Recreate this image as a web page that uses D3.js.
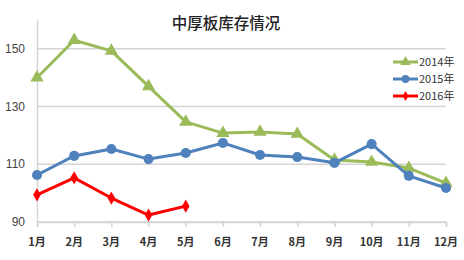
<!DOCTYPE html>
<html>
<head>
<meta charset="utf-8">
<script src="https://cdn.jsdelivr.net/npm/d3@7"></script>
<style>
  body { margin: 0; background: #fff; overflow: hidden; }
  svg { display: block; }
</style>
</head>
<body>
<div id="chart"></div>
<script>
// -----------------------------
// DATA
// -----------------------------
const months = ["1月", "2月", "3月", "4月", "5月", "6月", "7月", "8月", "9月", "10月", "11月", "12月"];
const yTicks = [90, 110, 130, 150];
const values2014 = [140, 153, 149.3, 137, 124.7, 120.8, 121.2, 120.5, 111.5, 110.8, 108.7, 103.5];
const values2015 = [106.3, 112.9, 115.3, 111.8, 113.9, 117.4, 113.2, 112.5, 110.5, 117, 106, 101.8];
const values2016 = [99.4, 105.3, 98.3, 92.4, 95.5];
const seriesNames = ["2014年", "2015年", "2016年"];

const width = 464;
const height = 260;
const margin = { top: 20, right: 18, bottom: 38, left: 37 };
const innerWidth = width - margin.left - margin.right;
const innerHeight = height - margin.top - margin.bottom;

const svg = d3.select("#chart")
    .append("svg")
    .attr("width", width)
    .attr("height", height);

const g = svg.append("g")
    .attr("transform", `translate(${margin.left},${margin.top})`);

// -----------------------------
// SCALES
// -----------------------------
const x = d3.scalePoint()
    .domain(months)
    .range([0, innerWidth]);

const y = d3.scaleLinear()
    .domain([90, 160])
    .range([innerHeight, 0]);

// gridlines
g.selectAll(".grid")
    .data(yTicks)
    .join("line")
    .attr("class", "grid")
    .attr("x1", 0)
    .attr("x2", innerWidth)
    .attr("y1", d => y(d))
    .attr("y2", d => y(d))
    .attr("stroke", "#d4d4d4")
    .attr("stroke-width", 1.5);

// y axis line (labels drawn separately below)
const yAxis = g.append("g")
    .call(d3.axisLeft(y).tickValues(yTicks).tickSize(0).tickFormat(""));
yAxis.select(".domain").attr("stroke", "#d4d4d4").attr("stroke-width", 1.5);

// x axis line + ticks
const xAxis = g.append("g")
    .attr("transform", `translate(0,${innerHeight})`)
    .call(d3.axisBottom(x).tickSize(5).tickFormat(""));
xAxis.select(".domain").attr("stroke", "#d4d4d4").attr("stroke-width", 1.5);
xAxis.selectAll(".tick line").attr("stroke", "#d4d4d4").attr("stroke-width", 1.5);

// tick labels
g.selectAll(".y-label")
    .data(yTicks)
    .join("text")
    .attr("class", "y-label")
    .attr("x", -12)
    .attr("y", d => y(d) + 4)
    .attr("text-anchor", "end")
    .attr("fill", "#444")
    .style("font-family", "'Liberation Sans Narrow', 'Liberation Sans', sans-serif")
    .style("font-size", "12px")
    .text(d => d);

g.selectAll(".x-label")
    .data(months)
    .join("text")
    .attr("class", "x-label")
    .attr("x", d => x(d))
    .attr("y", innerHeight + 24)
    .attr("text-anchor", "middle")
    .attr("fill", "#333")
    .style("font-family", "'Noto Sans CJK SC', sans-serif")
    .style("font-size", "11px")
    .style("font-weight", "bold")
    .text(d => d);

// -----------------------------
// LINES + MARKERS
// -----------------------------
const series = [
    { name: seriesNames[0], values: values2014, color: "#9BBB59", symbol: d3.symbolTriangle, size: 75 },
    { name: seriesNames[1], values: values2015, color: "#4F81BD", symbol: d3.symbolCircle, size: 80 },
    { name: seriesNames[2], values: values2016, color: "#FF0000", symbol: d3.symbolDiamond, size: 50 }
];

const line = d3.line()
    .x((d, i) => x(months[i]))
    .y(d => y(d));

series.forEach(s => {
    g.append("path")
        .datum(s.values)
        .attr("fill", "none")
        .attr("stroke", s.color)
        .attr("stroke-width", 3)
        .attr("stroke-linejoin", "round")
        .attr("d", line);

    g.selectAll(null)
        .data(s.values)
        .join("path")
        .attr("transform", (d, i) => `translate(${x(months[i])},${y(d)})`)
        .attr("d", d3.symbol().type(s.symbol).size(s.size))
        .attr("fill", s.color);
});

// -----------------------------
// TITLE
// -----------------------------
svg.append("text")
    .attr("x", 226)
    .attr("y", 29)
    .attr("text-anchor", "middle")
    .attr("fill", "#222")
    .style("font-family", "'Noto Sans CJK SC', sans-serif")
    .style("font-size", "15.5px")
    .style("font-weight", "500")
    .text("中厚板库存情况");

// -----------------------------
// LEGEND
// -----------------------------
const legend = svg.append("g")
    .attr("transform", "translate(393,62)");

const rows = legend.selectAll("g")
    .data(series)
    .join("g")
    .attr("transform", (d, i) => `translate(0,${i * 17})`);

rows.append("line")
    .attr("x1", 0).attr("x2", 25)
    .attr("stroke", d => d.color)
    .attr("stroke-width", 3);

rows.append("path")
    .attr("transform", "translate(12.5,0)")
    .attr("d", d => d3.symbol().type(d.symbol).size(d.size * 0.6)())
    .attr("fill", d => d.color);

rows.append("text")
    .attr("x", 26)
    .attr("dy", "0.35em")
    .attr("fill", "#333")
    .style("font-family", "'Noto Sans CJK SC', sans-serif")
    .style("font-size", "11px")
    .text(d => d.name);
</script>
</body>
</html>
